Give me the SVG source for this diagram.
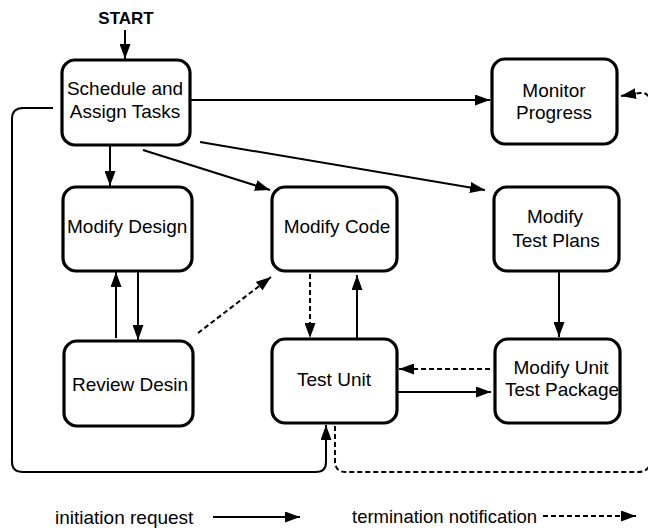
<svg xmlns="http://www.w3.org/2000/svg" width="648" height="532" viewBox="0 0 648 532">
<style>
.box{fill:#fff;stroke:#000;stroke-width:3.2}
.t{font-family:"Liberation Sans",Arial,sans-serif;font-size:19px;fill:#000}
.m{text-anchor:middle}
.c{fill:none;stroke:#000;stroke-width:2}
.d{fill:none;stroke:#000;stroke-width:2;stroke-dasharray:5,3}
</style>
<defs>
<marker id="ah" markerUnits="userSpaceOnUse" markerWidth="15" markerHeight="11" refX="15" refY="5.5" orient="auto">
<path d="M0,0 L15,5.5 L0,11 z" fill="#000"/>
</marker>
</defs>
<rect width="648" height="532" fill="#fff"/>
<g id="connectors">
<path class="c" d="M125,30 L125,59" marker-end="url(#ah)"/>
<path class="c" d="M190,100 L490,100" marker-end="url(#ah)"/>
<path class="c" d="M110,145 L110,186" marker-end="url(#ah)"/>
<path class="c" d="M143,150 L270,190" marker-end="url(#ah)"/>
<path class="c" d="M200,142 L485,190" marker-end="url(#ah)"/>
<path class="c" d="M116,338 L116,272" marker-end="url(#ah)"/>
<path class="c" d="M138,271 L138,340" marker-end="url(#ah)"/>
<path class="d" d="M198,333 L271,277" marker-end="url(#ah)"/>
<path class="d" d="M310,274 L310,338" marker-end="url(#ah)"/>
<path class="c" d="M357,338 L357,275" marker-end="url(#ah)"/>
<path class="d" d="M490,369 L399,369" marker-end="url(#ah)"/>
<path class="c" d="M397,392 L491,392" marker-end="url(#ah)"/>
<path class="c" d="M559,271 L559,337" marker-end="url(#ah)"/>
<path class="c" d="M53,108 L23,108 Q12,108 12,119 L12,462 Q12,472 23,472 L316,472 Q326,472 326,462 L326,425" marker-end="url(#ah)"/>
<path class="d" d="M335,426 L335,461 Q335,472 346,472 L638,472 Q650,472 650,460 L650,104 Q650,92 640,93 L621,96" marker-end="url(#ah)"/>
<path class="c" d="M213,517 L300,517" marker-end="url(#ah)"/>
<path class="d" d="M543,516 L636,516" marker-end="url(#ah)"/>
</g>
<g id="start"><text class="t m" x="126" y="24" style="font-weight:bold;font-size:17px">START</text></g>
<g id="schedule">
<rect class="box" x="62" y="60" width="128" height="85" rx="13"/>
<text class="t m" x="125" y="95">Schedule and</text>
<text class="t m" x="125" y="118">Assign Tasks</text>
</g>
<g id="monitor">
<rect class="box" x="492" y="59" width="125" height="85" rx="13"/>
<text class="t m" x="554" y="97">Monitor</text>
<text class="t m" x="554" y="119">Progress</text>
</g>
<g id="modify-design">
<rect class="box" x="63" y="187" width="129" height="84" rx="13"/>
<text class="t" x="67" y="233">Modify Design</text>
</g>
<g id="modify-code">
<rect class="box" x="272" y="187" width="125" height="84" rx="13"/>
<text class="t m" x="337" y="233">Modify Code</text>
</g>
<g id="modify-test-plans">
<rect class="box" x="494" y="187" width="125" height="84" rx="13"/>
<text class="t m" x="555" y="223">Modify</text>
<text class="t m" x="556" y="247">Test Plans</text>
</g>
<g id="review-design">
<rect class="box" x="64" y="341" width="129" height="85" rx="13"/>
<text class="t m" x="130" y="391">Review Desin</text>
</g>
<g id="test-unit">
<rect class="box" x="272" y="339" width="125" height="84" rx="13"/>
<text class="t m" x="334" y="386">Test Unit</text>
</g>
<g id="modify-unit-test-package">
<rect class="box" x="495" y="339" width="125" height="84" rx="13"/>
<text class="t m" x="561" y="374">Modify Unit</text>
<text class="t m" x="562" y="396">Test Package</text>
</g>
<g id="legend">
<text class="t" x="55" y="524">initiation request</text>
<text class="t" x="352" y="523" style="font-size:18.5px">termination notification</text>
</g>
</svg>
